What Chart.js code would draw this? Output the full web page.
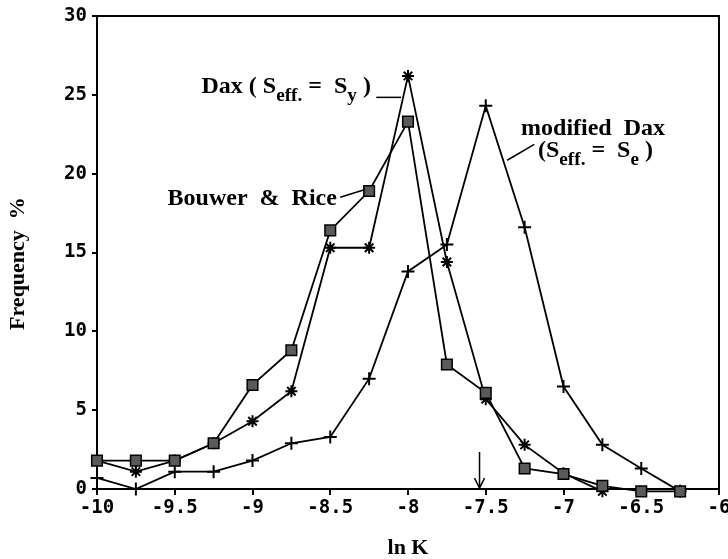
<!DOCTYPE html>
<html>
<head>
<meta charset="utf-8">
<script src="https://cdn.jsdelivr.net/npm/chart.js@4"></script>
<style>
  html, body { margin: 0; padding: 0; background: #fff; }
  #wrap { width: 728px; height: 559px; }
</style>
</head>
<body>
<div id="wrap"><canvas id="chart"></canvas></div>
<script>
// ---- Data (frequency % per ln K class) ----
const lnK = [-10, -9.75, -9.5, -9.25, -9, -8.75, -8.5, -8.25, -8, -7.75, -7.5, -7.25, -7, -6.75, -6.5, -6.25];
const bouwerRice = [1.8, 1.8, 1.8, 2.9, 6.6, 8.8, 16.4, 18.9, 23.3, 7.9, 6.1, 1.3, 0.95, 0.2, -0.15, -0.15];
const daxSy = [1.8, 1.1, 1.8, 2.9, 4.3, 6.2, 15.3, 15.3, 26.2, 14.4, 5.7, 2.8, 1.0, -0.15];
const modifiedDaxSe = [0.7, 0.0, 1.1, 1.1, 1.8, 2.9, 3.3, 7.0, 13.8, 15.5, 24.3, 16.6, 6.5, 2.8, 1.3, -0.15];

const X_MIN = -10, X_MAX = -6, X_STEP = 0.5;
const Y_MIN = 0, Y_MAX = 30, Y_STEP = 5;

const SERIF = "'Liberation Serif', 'DejaVu Serif', serif";
const TICK_FONT = "'DejaVu Sans Mono', monospace";

function pts(ys) {
  return ys.map((y, i) => ({ x: lnK[i], y }));
}

// ---- Rich text helper (baseline text with subscripts) ----
function drawRich(ctx, x, y, parts, size) {
  let cx = x;
  for (const p of parts) {
    const s = p.sub ? size * 0.8 : size;
    ctx.font = `bold ${s}px ${SERIF}`;
    ctx.fillText(p.t, cx, p.sub ? y + size * 0.32 : y);
    cx += ctx.measureText(p.t).width;
  }
  return cx;
}

// ---- Annotations: frame, y title, curve labels, leader lines, arrow ----
const annotationPlugin = {
  id: "annotations",
  afterDraw(chart) {
    const { ctx, chartArea: a } = chart;
    const xs = chart.scales.x, ys = chart.scales.y;
    const px = (v) => xs.getPixelForValue(v);
    const py = (v) => ys.getPixelForValue(v);

    ctx.save();
    // top and right edges of the frame
    ctx.strokeStyle = "#000";
    ctx.lineWidth = 2;
    ctx.beginPath();
    ctx.moveTo(a.left, a.top);
    ctx.lineTo(a.right, a.top);
    ctx.lineTo(a.right, a.bottom);
    ctx.stroke();

    // y axis title
    ctx.fillStyle = "#000";
    ctx.save();
    ctx.translate(18, py(14.3));
    ctx.rotate(-Math.PI / 2);
    ctx.textAlign = "center";
    ctx.textBaseline = "middle";
    ctx.font = `bold 22px ${SERIF}`;
    ctx.fillText("Frequency  %", 0, 0);
    ctx.restore();

    ctx.textAlign = "left";
    ctx.textBaseline = "alphabetic";
    const fs = 24;

    // Dax (S_eff. = S_y)
    drawRich(ctx, px(-9.328), py(25.1), [
      { t: "Dax ( S" }, { t: "eff.", sub: true }, { t: " =  S" }, { t: "y", sub: true }, { t: " )" },
    ], fs);
    // Bouwer & Rice
    drawRich(ctx, px(-9.546), py(18.0), [{ t: "Bouwer  &  Rice" }], fs);
    // modified Dax (S_eff. = S_e)
    drawRich(ctx, px(-7.273), py(22.43), [{ t: "modified  Dax" }], fs);
    drawRich(ctx, px(-7.164), py(21.04), [
      { t: "(S" }, { t: "eff.", sub: true }, { t: " =  S" }, { t: "e", sub: true }, { t: " )" },
    ], fs);

    // leader lines
    ctx.lineWidth = 1.5;
    const leaders = [
      [-8.204, 24.84, -8.045, 24.84],
      [-8.436, 18.5, -8.275, 19.0],
      [-7.362, 20.85, -7.188, 21.86],
    ];
    for (const [x1, y1, x2, y2] of leaders) {
      ctx.beginPath();
      ctx.moveTo(px(x1), py(y1));
      ctx.lineTo(px(x2), py(y2));
      ctx.stroke();
    }

    // arrow marking ln K = -7.54
    const ax = px(-7.54), ay0 = py(2.34), ay1 = py(0.06);
    ctx.beginPath();
    ctx.moveTo(ax, ay0);
    ctx.lineTo(ax, ay1);
    ctx.moveTo(ax - 5, ay1 - 10);
    ctx.lineTo(ax, ay1);
    ctx.lineTo(ax + 5, ay1 - 10);
    ctx.stroke();
    ctx.restore();
  },
};

const lineDefaults = {
  borderColor: "#000",
  borderWidth: 1.8,
  pointBorderColor: "#000",
  pointBorderWidth: 2,
  tension: 0,
  clip: false,
  fill: false,
};

new Chart(document.getElementById("chart"), {
  type: "line",
  data: {
    datasets: [
      {
        ...lineDefaults,
        label: "Bouwer & Rice",
        data: pts(bouwerRice),
        pointStyle: "rect",
        pointRadius: 7.5,
        pointBackgroundColor: "#5a5a5a",
        pointBorderWidth: 1.5,
      },
      {
        ...lineDefaults,
        label: "Dax (Seff. = Sy)",
        data: pts(daxSy),
        pointStyle: "star",
        pointRadius: 6,
      },
      {
        ...lineDefaults,
        label: "modified Dax (Seff. = Se)",
        data: pts(modifiedDaxSe),
        pointStyle: "cross",
        pointRadius: 6.5,
      },
    ],
  },
  options: {
    responsive: true,
    maintainAspectRatio: false,
    animation: false,
    layout: { padding: { top: 16, right: 8, left: 0, bottom: 0 } },
    plugins: { legend: { display: false }, tooltip: { enabled: false } },
    scales: {
      x: {
        type: "linear",
        min: X_MIN,
        max: X_MAX,
        ticks: {
          stepSize: X_STEP,
          autoSkip: false,
          maxRotation: 0,
          color: "#000",
          padding: 2,
          font: { family: TICK_FONT, weight: "bold", size: 19 },
          callback: (v) => String(Math.round(v * 100) / 100),
        },
        grid: { drawOnChartArea: false, drawTicks: true, tickLength: 6, color: "#000", lineWidth: 2 },
        border: { display: true, color: "#000", width: 2 },
        title: {
          display: true,
          text: "ln K",
          color: "#000",
          padding: { top: 0, bottom: -3 },
          font: { family: SERIF, weight: "bold", size: 22 },
        },
        afterFit(s) {
          s.height = 70;
          s.paddingLeft = 0;
          s.paddingRight = 0;
        },
      },
      y: {
        min: Y_MIN,
        max: Y_MAX,
        ticks: {
          stepSize: Y_STEP,
          color: "#000",
          padding: 5,
          font: { family: TICK_FONT, weight: "bold", size: 19 },
        },
        grid: { drawOnChartArea: false, drawTicks: true, tickLength: 5, color: "#000", lineWidth: 2 },
        border: { display: true, color: "#000", width: 2 },
        afterFit(s) {
          s.width = 97;
          s.paddingTop = 0;
          s.paddingBottom = 0;
        },
      },
    },
  },
  plugins: [annotationPlugin],
});
</script>
</body>
</html>
